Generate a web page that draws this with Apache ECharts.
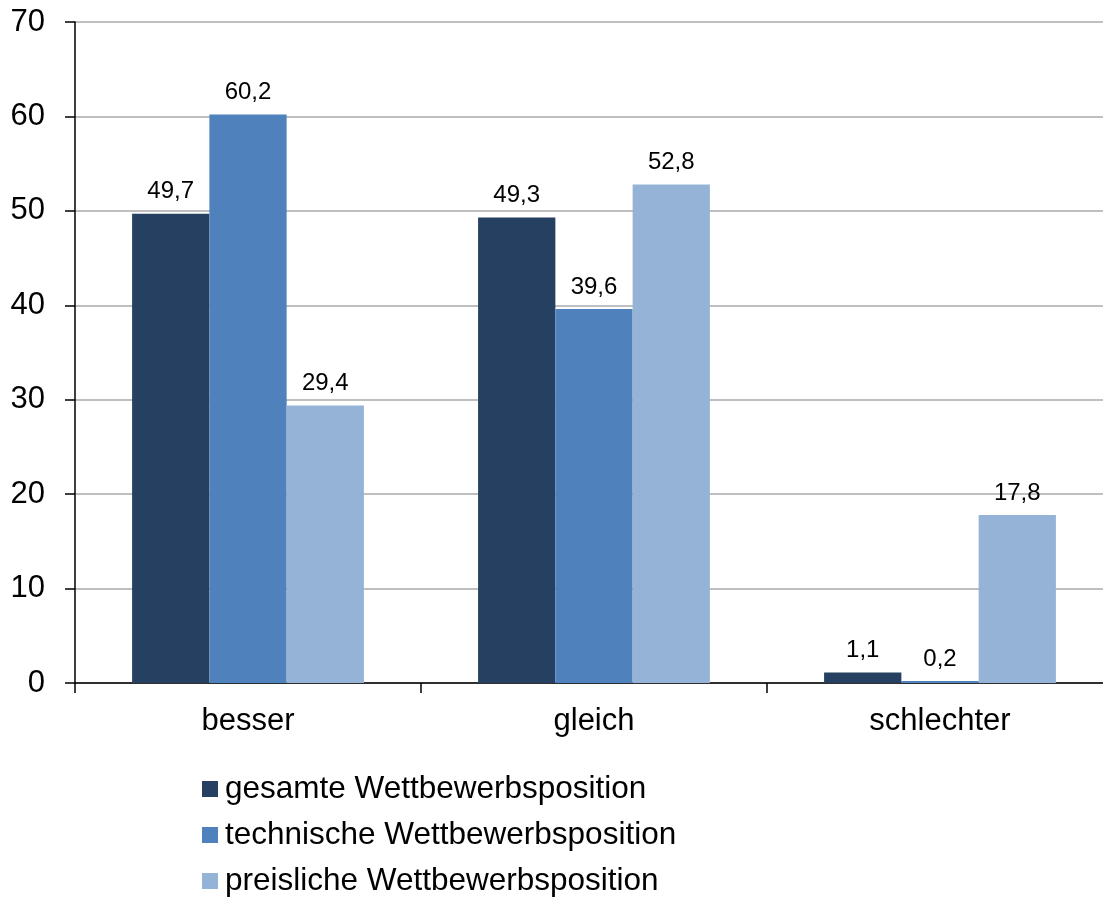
<!DOCTYPE html>
<html><head><meta charset="utf-8">
<script src="https://cdn.jsdelivr.net/npm/echarts@6/dist/echarts.min.js"></script>
<style>html,body{margin:0;padding:0;background:#fff;overflow:hidden}#c{width:1113px;height:899px}</style>
</head><body><div id="c"></div>
<script>
const categories = ['besser', 'gleich', 'schlechter'];
const seriesNames = ['gesamte Wettbewerbsposition', 'technische Wettbewerbsposition', 'preisliche Wettbewerbsposition'];
const gesamte = [49.7, 49.3, 1.1];
const technische = [60.2, 39.6, 0.2];
const preisliche = [29.4, 52.8, 17.8];
const colors = ['#264061', '#4F81BD', '#95B3D7'];
const FONT = '"Liberation Sans", Arial, sans-serif';

const chart = echarts.init(document.getElementById('c'), null, {renderer: 'canvas'});
const mk = (name, data, color) => ({
  name, type: 'bar', data, barGap: '0%', barCategoryGap: '33%',
  itemStyle: {color},
  label: {show: true, position: 'top', distance: 10, color: '#000', fontFamily: FONT, fontSize: 24,
    formatter: p => p.value.toFixed(1).replace('.', ',')}
});
chart.setOption({
  animation: false,
  color: colors,
  grid: {left: 75, top: 22, right: 0, bottom: 216, containLabel: false},
  legend: {
    orient: 'vertical', left: 202, top: 772, height: 200, padding: 0,
    itemWidth: 16, itemHeight: 16, itemGap: 12,
    icon: 'rect', textStyle: {fontFamily: FONT, fontSize: 31.5, color: '#000', lineHeight: 34, padding: [0, 0, 0, 2]},
    data: seriesNames
  },
  xAxis: {
    type: 'category', data: categories,
    axisLine: {lineStyle: {color: '#000', width: 1.5}},
    axisTick: {show: true, length: 10, lineStyle: {color: '#000', width: 1.5}},
    axisLabel: {fontFamily: FONT, fontSize: 31, color: '#000', margin: 23}
  },
  yAxis: {
    type: 'value', min: 0, max: 70, interval: 10,
    axisLine: {show: true, lineStyle: {color: '#000', width: 1.5}},
    axisTick: {show: true, length: 10, lineStyle: {color: '#000', width: 1.5}},
    axisLabel: {fontFamily: FONT, fontSize: 31, color: '#000', margin: 30},
    splitLine: {lineStyle: {color: '#BFBFBF', width: 2}}
  },
  series: [mk(seriesNames[0], gesamte, colors[0]), mk(seriesNames[1], technische, colors[1]), mk(seriesNames[2], preisliche, colors[2])]
});
</script></body></html>
